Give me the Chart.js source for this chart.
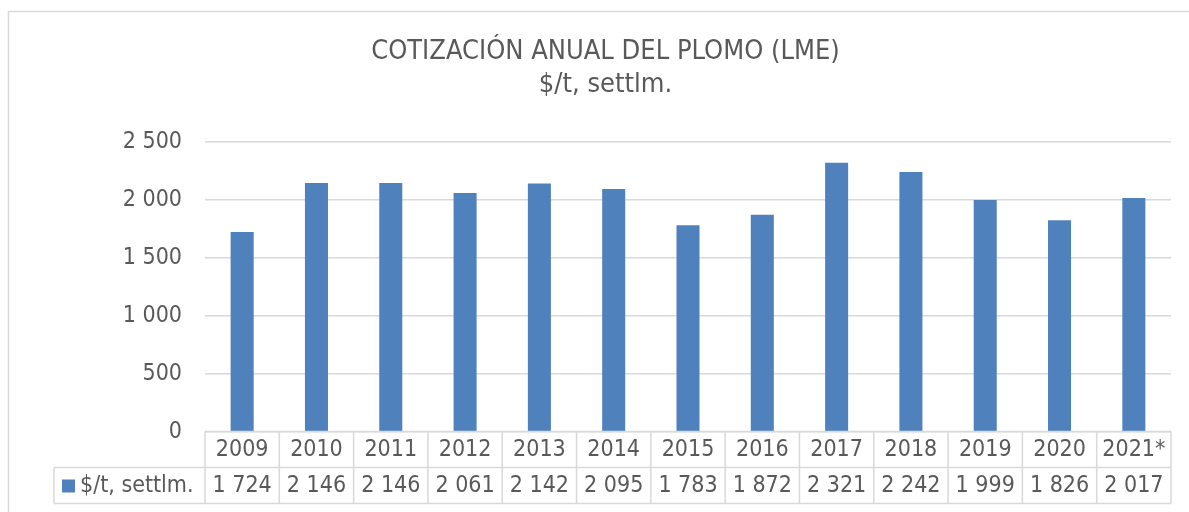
<!DOCTYPE html>
<html>
<head>
<meta charset="utf-8">
<script src="https://cdn.jsdelivr.net/npm/chart.js@4/dist/chart.umd.min.js"></script>
<style>
  html, body { margin: 0; padding: 0; background: #fff; }
  #wrap { width: 1189px; height: 512px; }
</style>
</head>
<body>
<div id="wrap"><canvas id="chart" width="1189" height="512"></canvas></div>
<script>
const years = ['2009', '2010', '2011', '2012', '2013', '2014', '2015', '2016', '2017', '2018', '2019', '2020', '2021*'];
const prices = [1724, 2146, 2146, 2061, 2142, 2095, 1783, 1872, 2321, 2242, 1999, 1826, 2017];
const seriesName = '$/t, settlm.';
const titleLines = ['COTIZACIÓN ANUAL DEL PLOMO (LME)', '$/t, settlm.'];

const FONT = '"DejaVu Sans Condensed", "DejaVu Sans", sans-serif';
const textColor = '#595959';
const lineColor = '#d9d9d9';
const barColor = '#4f81bd';

// thousands with a space, like "2 500"
function fmt(v) {
  return String(v).replace(/\B(?=(\d{3})+(?!\d))/g, ' ');
}

// outer frame of the chart (only left and top edges are visible)
const framePlugin = {
  id: 'frame',
  beforeDraw(chart) {
    const ctx = chart.ctx;
    ctx.save();
    ctx.strokeStyle = lineColor;
    ctx.lineWidth = 1.5;
    ctx.beginPath();
    ctx.moveTo(8.5, chart.height);
    ctx.lineTo(8.5, 11.5);
    ctx.lineTo(chart.width, 11.5);
    ctx.stroke();
    ctx.restore();
  }
};

// data table under the plot: categories row + values row with legend key
const tablePlugin = {
  id: 'dataTable',
  afterDraw(chart) {
    const ctx = chart.ctx;
    const area = chart.chartArea;
    const x = chart.scales.x;
    const n = years.length;
    const w = (area.right - area.left) / n;
    const top = area.bottom - 0.5;
    const mid = top + 36;
    const bot = mid + 36;
    const legendLeft = 54;

    ctx.save();
    ctx.strokeStyle = lineColor;
    ctx.lineWidth = 1.5;
    ctx.beginPath();
    // horizontal lines
    ctx.moveTo(area.left, top); ctx.lineTo(area.right, top);
    ctx.moveTo(legendLeft, mid); ctx.lineTo(area.right, mid);
    ctx.moveTo(legendLeft, bot); ctx.lineTo(area.right, bot);
    // vertical lines
    ctx.moveTo(legendLeft, mid); ctx.lineTo(legendLeft, bot);
    for (let i = 0; i <= n; i++) {
      const xx = area.left + i * w;
      ctx.moveTo(xx, top); ctx.lineTo(xx, bot);
    }
    ctx.stroke();

    ctx.fillStyle = textColor;
    ctx.font = '23px ' + FONT;
    ctx.textAlign = 'center';
    ctx.textBaseline = 'middle';
    years.forEach((y, i) => {
      const cx = x.getPixelForValue(i);
      ctx.fillText(y, cx, (top + mid) / 2 + 1);
      ctx.fillText(fmt(prices[i]), cx, (mid + bot) / 2 + 1);
    });

    // legend key
    ctx.fillStyle = barColor;
    ctx.fillRect(62, (mid + bot) / 2 - 6, 13, 13);
    ctx.fillStyle = textColor;
    ctx.textAlign = 'left';
    ctx.fillText(seriesName, 80, (mid + bot) / 2 + 1);
    ctx.restore();
  }
};

new Chart(document.getElementById('chart'), {
  type: 'bar',
  data: {
    labels: years,
    datasets: [{
      label: seriesName,
      data: prices,
      backgroundColor: barColor,
      borderWidth: 0,
      barPercentage: 0.31,
      categoryPercentage: 1
    }]
  },
  options: {
    responsive: false,
    animation: false,
    // left padding centres the title on the full chart frame
    layout: { padding: { left: 40, right: 18, top: 0, bottom: 80 } },
    plugins: {
      legend: { display: false },
      tooltip: { enabled: false },
      title: {
        display: true,
        text: titleLines,
        color: textColor,
        font: { family: FONT, size: 27, weight: 'normal', lineHeight: '33px' },
        padding: { top: 35.5, bottom: 40.5 }
      }
    },
    scales: {
      x: { display: false },
      y: {
        min: 0,
        max: 2500,
        ticks: {
          stepSize: 500,
          padding: 23,
          color: textColor,
          font: { family: FONT, size: 23 },
          callback: v => fmt(v)
        },
        grid: { color: lineColor, lineWidth: 1.5, drawTicks: false },
        border: { display: false },
        afterFit(s) { s.width = 165; }
      }
    }
  },
  plugins: [framePlugin, tablePlugin]
});
</script>
</body>
</html>
